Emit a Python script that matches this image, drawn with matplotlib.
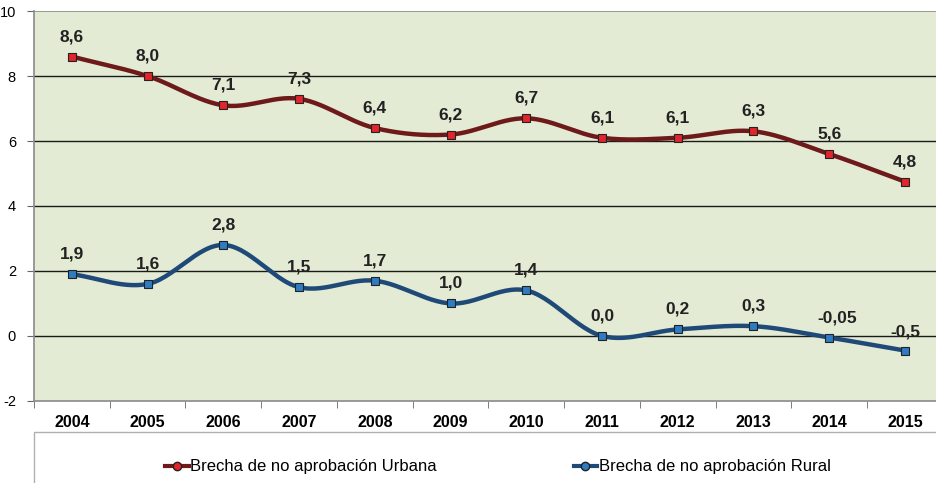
import numpy as np
import matplotlib
matplotlib.use('Agg')
import matplotlib.pyplot as plt
from matplotlib.lines import Line2D
import matplotlib.patches as patches

plt.rcParams['font.family'] = ['Liberation Sans', 'DejaVu Sans']

# data
years = ['2004', '2005', '2006', '2007', '2008', '2009', '2010', '2011', '2012', '2013', '2014', '2015']
urbana = [8.6, 8.0, 7.1, 7.3, 6.4, 6.2, 6.7, 6.1, 6.1, 6.3, 5.6, 4.75]
rural = [1.9, 1.6, 2.8, 1.5, 1.7, 1.0, 1.4, 0.0, 0.2, 0.3, -0.05, -0.45]
urbana_labels = ['8,6', '8,0', '7,1', '7,3', '6,4', '6,2', '6,7', '6,1', '6,1', '6,3', '5,6', '4,8']
rural_labels = ['1,9', '1,6', '2,8', '1,5', '1,7', '1,0', '1,4', '0,0', '0,2', '0,3', '-0,05', '-0,5']


def smooth(x, y, n=30):
    # catmull-rom style smoothing like the spreadsheet "smoothed line"
    x = np.asarray(x, float)
    y = np.asarray(y, float)
    px = np.concatenate([[2 * x[0] - x[1]], x, [2 * x[-1] - x[-2]]])
    py = np.concatenate([[2 * y[0] - y[1]], y, [2 * y[-1] - y[-2]]])
    xs, ys = [], []
    t = np.linspace(0, 1, n)
    for i in range(1, len(px) - 2):
        p0, p1, p2, p3 = [np.array([px[j], py[j]]) for j in (i - 1, i, i + 1, i + 2)]
        c1 = p1 + (p2 - p0) / 6
        c2 = p2 - (p3 - p1) / 6
        b = ((1 - t) ** 3)[:, None] * p1 + (3 * (1 - t) ** 2 * t)[:, None] * c1 \
            + (3 * (1 - t) * t ** 2)[:, None] * c2 + (t ** 3)[:, None] * p2
        xs.extend(b[:, 0])
        ys.extend(b[:, 1])
    return np.array(xs), np.array(ys)


fig = plt.figure(figsize=(9.36, 4.83), dpi=100)
ax = fig.add_axes([0.0363, 0.170, 0.971, 0.807])
ax.set_facecolor('#E3EBD5')

x = np.arange(len(years))
red_line = '#6E1A1A'
red_mark = '#E2252B'
blue_line = '#1F4A78'
blue_mark = '#2D7CC4'

for vals, lc, mc in [(urbana, red_line, red_mark), (rural, blue_line, blue_mark)]:
    sx, sy = smooth(x, vals)
    ax.plot(sx, sy, color=lc, lw=3.2, zorder=3, solid_capstyle='round')
    ax.plot(x, vals, 's', ms=5.5, mfc=mc, mec='#222222', mew=0.8, zorder=4)

for i, lab in enumerate(urbana_labels):
    ax.annotate(lab, (x[i], urbana[i]), xytext=(0, 9), textcoords='offset points',
                ha='center', va='bottom', fontsize=12.5, fontweight='bold', color='#222222')
for i, lab in enumerate(rural_labels):
    dx = 6 if lab == '-0,05' else 0
    dy = 9 if lab != '-0,5' else 8
    ax.annotate(lab, (x[i], rural[i]), xytext=(dx, dy), textcoords='offset points',
                ha='center', va='bottom', fontsize=12.5, fontweight='bold', color='#222222')

ax.set_xlim(-0.5, 11.5)
ax.set_ylim(-2, 10)
ax.set_yticks([-2, 0, 2, 4, 6, 8, 10])
ax.set_yticklabels(['-2', '0', '2', '4', '6', '8', '10'], fontsize=10.5)
for yv in [0, 2, 4, 6, 8]:
    ax.axhline(yv, color='#1a1a1a', lw=1, zorder=1)
ax.axhline(10, color='#8a8a8a', lw=1.2, zorder=1)

ax.set_xticks(x)
ax.set_xticklabels(years, fontsize=11.5, fontweight='bold')
ax.set_xticks(np.arange(-0.5, 12, 1), minor=True)
ax.tick_params(axis='x', which='major', length=0, pad=10)
ax.tick_params(axis='x', which='minor', length=5, color='#666666', direction='out')
ax.tick_params(axis='y', length=5, color='#666666', direction='out', pad=8)
for s in ['top', 'right']:
    ax.spines[s].set_visible(False)
ax.spines['left'].set_color('#8a8a8a')
ax.spines['left'].set_linewidth(1.2)
ax.spines['bottom'].set_color('#8a8a8a')
ax.spines['bottom'].set_linewidth(1.2)

# legend box
box = patches.Rectangle((34 / 936, -0.05), 1.0, 1 - 432 / 483 + 0.05, transform=fig.transFigure,
                        facecolor='white', edgecolor='#b0b0b0', lw=1)
fig.patches.append(box)
handles = [
    Line2D([], [], color=red_line, lw=3, marker='o', ms=6, mfc=red_mark, mec='#222222'),
    Line2D([], [], color=blue_line, lw=3, marker='o', ms=6, mfc=blue_mark, mec='#222222'),
]
fig.legend(handles, ['Brecha de no aprobación Urbana', 'Brecha de no aprobación Rural'],
           loc='center', bbox_to_anchor=(0.532, 1 - 467 / 483), ncol=2, frameon=False,
           fontsize=12, handlelength=1.4, handletextpad=0.1, columnspacing=8.2)

fig.savefig('out.png', dpi=100)
